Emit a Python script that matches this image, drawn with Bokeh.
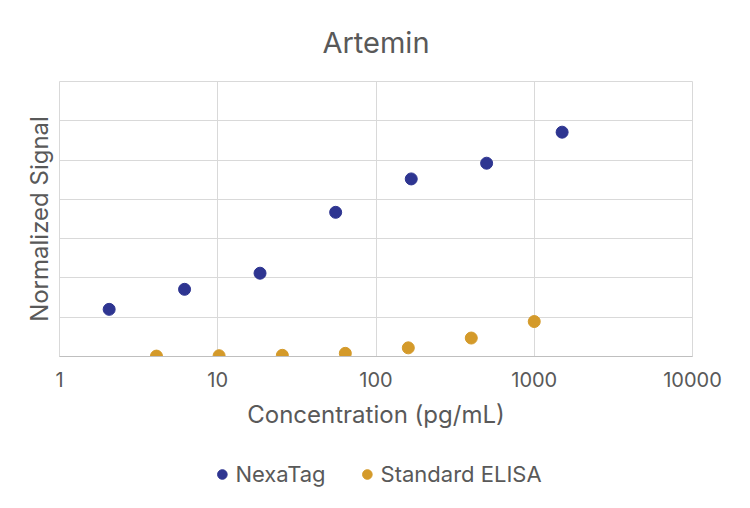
import numpy as np
from bokeh.plotting import figure
from bokeh.layouts import column
from bokeh.models import ColumnDataSource, FixedTicker, Legend, LegendItem, Range1d
from bokeh.embed import file_html
from bokeh.resources import INLINE

# values
nexatag_conc = [2.06, 6.17, 18.5, 55.6, 167, 500, 1500]
nexatag_signal = [1.20, 1.71, 2.12, 3.67, 4.52, 4.92, 5.71]

elisa_conc = [4.1, 10.2, 25.6, 64, 160, 400, 1000]
elisa_signal = [0.01, 0.02, 0.03, 0.08, 0.22, 0.47, 0.89]

x_ticks = [1, 10, 100, 1000, 10000]
y_ticks = [0, 1, 2, 3, 4, 5, 6, 7]

series_names = ["NexaTag", "Standard ELISA"]
series_colors = ["#2e3591", "#d49a2a"]

FONT = "Inter"
TEXT = "#595959"
GRID = "#d9d9d9"

p = figure(frame_width=633, frame_height=275, x_axis_type="log",
           x_range=(1, 10000), y_range=(0, 7),
           output_backend="svg", toolbar_location=None,
           min_border_left=59, min_border_right=42,
           min_border_top=81, min_border_bottom=84)

p.outline_line_color = GRID
p.background_fill_color = "white"
p.border_fill_color = "white"

# grid
p.xgrid.ticker = FixedTicker(ticks=x_ticks)
p.ygrid.ticker = FixedTicker(ticks=y_ticks)
p.xgrid.grid_line_color = GRID
p.ygrid.grid_line_color = GRID
p.xgrid.minor_grid_line_color = None

# x axis
p.xaxis.ticker = FixedTicker(ticks=x_ticks)
p.xaxis.major_label_overrides = {t: str(t) for t in x_ticks}
p.xaxis.axis_label = "Concentration (pg/mL)"
p.xaxis.axis_line_color = "#bfbfbf"
p.xaxis.major_tick_line_color = None
p.xaxis.minor_tick_line_color = None
p.xaxis.major_label_standoff = 9
p.xaxis.major_label_text_font = FONT
p.xaxis.major_label_text_font_size = "20px"
p.xaxis.major_label_text_color = TEXT
p.xaxis.axis_label_text_font = FONT
p.xaxis.axis_label_text_font_size = "24px"
p.xaxis.axis_label_text_font_style = "normal"
p.xaxis.axis_label_text_color = TEXT
p.xaxis.axis_label_standoff = 10

# y axis: label only
p.yaxis.ticker = FixedTicker(ticks=y_ticks)
p.yaxis.major_label_overrides = {t: "" for t in y_ticks}
p.yaxis.axis_label = "Normalized Signal"
p.yaxis.axis_line_color = None
p.yaxis.major_tick_line_color = None
p.yaxis.minor_tick_line_color = None
p.yaxis.major_label_standoff = 0
p.yaxis.axis_label_text_font = FONT
p.yaxis.axis_label_text_font_size = "24px"
p.yaxis.axis_label_text_font_style = "normal"
p.yaxis.axis_label_text_color = TEXT
p.yaxis.axis_label_standoff = 0

# title
p.title.text = "Artemin"
p.title.align = "center"
p.title.text_font = FONT
p.title.text_font_size = "29px"
p.title.text_font_style = "normal"
p.title.text_color = TEXT
p.title.standoff = 43

nexa_src = ColumnDataSource(dict(x=nexatag_conc, y=nexatag_signal))
elisa_src = ColumnDataSource(dict(x=elisa_conc, y=elisa_signal))

p.scatter("x", "y", source=nexa_src, size=12, color=series_colors[0])
p.scatter("x", "y", source=elisa_src, size=12, color=series_colors[1])

# legend strip below the chart (its own small figure, so it isn't clipped);
# the ranges keep the data itself out of view, only the legend shows
leg = figure(width=734, height=52, output_backend="svg", toolbar_location=None,
             x_range=Range1d(-2, -1), y_range=Range1d(-2, -1),
             min_border_left=1, min_border_right=0,
             min_border_top=16, min_border_bottom=0)
leg.axis.visible = False
leg.grid.visible = False
leg.outline_line_color = None
leg.border_fill_color = "white"
leg.background_fill_color = "white"

items = []
for name, color, src in zip(series_names, series_colors, [nexa_src, elisa_src]):
    r = leg.scatter("x", "y", source=src, size=11, color=color)
    items.append(LegendItem(label=name, renderers=[r]))

legend = Legend(items=items, orientation="horizontal", location="center",
                label_text_font=FONT, label_text_font_size="22px",
                label_text_color=TEXT, glyph_width=24, glyph_height=24,
                label_standoff=2, spacing=29, border_line_color=None,
                background_fill_alpha=0, padding=0, margin=0)
leg.add_layout(legend)

layout = column(p, leg, spacing=0)

open("out.html", "w").write(file_html(layout, INLINE))
